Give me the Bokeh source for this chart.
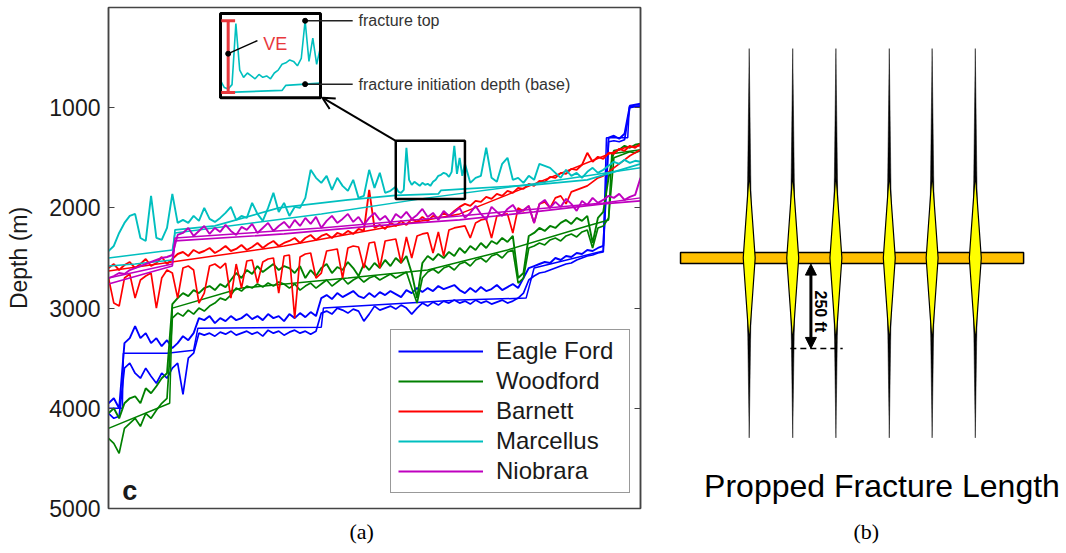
import numpy as np
from bokeh.embed import file_html
from bokeh.layouts import row
from bokeh.models import (Arrow, FixedTicker, Label, Legend, LegendItem, LinearAxis,
                          NormalHead, OpenHead, Range1d, Title)
from bokeh.plotting import figure
from bokeh.resources import INLINE

SANS = "Liberation Sans"
SERIF = "Liberation Serif"
INK = "#1a1a1a"

# ---------------------------------------------------------------------------
# Panel (a): fracture top / initiation depth for wells ranked by depth (m)
# ---------------------------------------------------------------------------
well_rank = list(range(101))

eagle_ford_top = [
    3950, 3900, 4000, 3350, 3300, 3180, 3300, 3250, 3350, 3300,
    3380, 3320, 3400, 3350, 3280, 3320, 3250, 3100, 3120, 3080,
    3150, 3100, 3130, 3080, 3120, 3100, 3060, 3110, 3080, 3120,
    3060, 3100, 3080, 3130, 3060, 3100, 3050, 3090, 3040, 3080,
    2900, 2870, 2910, 2850, 2890, 2860, 2830, 2880, 2900, 2850,
    2890, 2840, 2870, 2830, 2860, 2890, 2820, 2850, 2800, 2840,
    2800, 2830, 2780, 2810, 2790, 2770, 2820, 2850, 2800, 2840,
    2790, 2830, 2810, 2770, 2820, 2790, 2760, 2800, 2700, 2600,
    2580, 2560, 2540, 2550, 2500, 2520, 2480, 2490, 2450, 2460,
    2420, 2430, 2400, 2380, 1300, 1280, 1310, 1260, 980, 970,
    960,
]
eagle_ford_base = [
    4050, 4100, 4080, 3600, 3550, 3650, 3700, 3600, 3680, 3750,
    3650, 3700, 3600, 3550, 3860, 3500, 3450, 3250, 3270, 3250,
    3280, 3240, 3260, 3230, 3270, 3250, 3230, 3260, 3240, 3280,
    3220, 3250, 3230, 3270, 3240, 3220, 3250, 3230, 3260, 3230,
    3050, 3030, 3060, 3000, 3020, 3050, 3010, 3030, 3130, 3060,
    2980, 3020, 3000, 2980, 3010, 2970, 3000, 3060, 3000, 2950,
    2980, 2940, 2970, 2930, 2950, 2920, 2950, 2930, 2960, 2920,
    2950, 2930, 2960, 2940, 2920, 2950, 2930, 2900, 2850, 2720,
    2680, 2650, 2640, 2620, 2600, 2580, 2560, 2550, 2520, 2500,
    2480, 2470, 2450, 2440, 1340, 1330, 1340, 1320, 1000, 990,
    990,
]
eagle_ford_trend_x = [0, 2.6, 2.8, 11, 16, 16.8, 40, 40.4, 66, 78.5, 80, 93, 93.6, 97.6, 97.9, 100]
eagle_ford_trend = [4000, 4000, 3450, 3450, 3420, 3200, 3190, 3000, 2920, 2900, 2600, 2430, 1300, 1300, 990, 980]

woodford_top = [
    4050, 4000, 4100, 3950, 3900, 3880, 3950, 3800, 3850, 3780,
    3700, 3650, 2960, 2900, 2850, 2880, 2820, 2850, 2800, 2780,
    2820, 2760, 2790, 2720, 2650, 2700, 2620, 2660, 2580, 2640,
    2600, 2560, 2620, 2580, 2600, 2650, 2580, 2700, 2620, 2680,
    2600, 2560, 2650, 2590, 2620, 2540, 2600, 2680, 2560, 2620,
    2550, 2600, 2520, 2580, 2500, 2550, 2480, 2650, 2900, 2550,
    2480, 2520, 2460, 2500, 2440, 2480, 2400, 2450, 2380, 2420,
    2350, 2400, 2330, 2360, 2300, 2340, 2280, 2700, 2650, 2280,
    2250, 2200, 2230, 2180, 2200, 2150, 2120, 2160, 2100, 2130,
    2080, 2350, 2100, 2040, 1700, 1430, 1420, 1380, 1400, 1370,
    1360,
]
woodford_base = [
    4300, 4350, 4450, 4200, 4150, 4100, 4180, 4050, 4100, 4020,
    3950, 3900, 3100, 3050, 3080, 3020, 3060, 3000, 3030, 2980,
    2950, 2900, 2920, 2870, 2800, 2830, 2780, 2800, 2760, 2790,
    2750, 2780, 2740, 2760, 2800, 2760, 2820, 2780, 2750, 2800,
    2760, 2720, 2780, 2740, 2700, 2760, 2720, 2690, 2740, 2700,
    2680, 2720, 2690, 2660, 2700, 2670, 2640, 2800, 2950, 2700,
    2640, 2610, 2650, 2600, 2580, 2620, 2560, 2540, 2580, 2520,
    2500, 2540, 2480, 2460, 2500, 2440, 2420, 2750, 2700, 2400,
    2380, 2350, 2370, 2320, 2300, 2330, 2280, 2260, 2290, 2240,
    2220, 2400, 2200, 2180, 2100, 1500, 1480, 1460, 1440, 1450,
    1430,
]
woodford_trend_x = [0, 11.5, 12, 25, 45, 60, 75, 90, 94, 94.6, 100]
woodford_trend = [4200, 3950, 3000, 2800, 2700, 2620, 2420, 2180, 2120, 1460, 1420]

barnett_top = [
    2600, 2560, 2620, 2570, 2540, 2600, 2560, 2510, 2580, 2550,
    2490, 2560, 2510, 2460, 2440, 2480, 2420, 2450, 2430, 2400,
    2450, 2420, 2380, 2430, 2410, 2370, 2420, 2390, 2350, 2400,
    2360, 2330, 2380, 2350, 2330, 2300, 2350, 2300, 2270, 2320,
    2280, 2260, 2300, 2250, 2270, 2230, 2260, 2210, 2230, 1820,
    2200, 2170, 2210, 2150, 2180, 2130, 2170, 2110, 2140, 2090,
    2130, 2080, 2100, 2050, 2080, 2030, 1990, 1960, 1980, 1930,
    1940, 1890, 1910, 1860, 1880, 1830, 1850, 1800, 1810, 1760,
    1780, 1730, 1740, 1690, 1700, 1650, 1660, 1610, 1620, 1570,
    1450, 1540, 1490, 1510, 1450, 1460, 1410, 1430, 1380, 1400,
    1360,
]
barnett_base = [
    2700, 2950, 2980, 2700, 2660, 2900, 2720, 2680, 2650, 3000,
    2700, 2620, 2650, 2900, 2600, 2580, 2620, 2950, 2850, 2580,
    2560, 2600, 2550, 2900, 2560, 2800, 2530, 2520, 2750, 2540,
    2510, 2500, 2850, 2480, 2470, 3100, 2490, 2460, 2450, 2700,
    2650, 2430, 2420, 2410, 2700, 2400, 2380, 2390, 2600, 2350,
    2340, 2600, 2330, 2320, 2310, 2550, 2290, 2500, 2280, 2260,
    2250, 2450, 2240, 2480, 2220, 2200, 2190, 2180, 2300, 2150,
    2120, 2110, 2300, 2080, 2070, 2060, 2250, 2000, 2030, 1980,
    2150, 1960, 1940, 2000, 1900, 1880, 1960, 1840, 1820, 1800,
    1780, 1740, 1700, 1680, 1640, 1600, 1560, 1520, 1480, 1450,
    1420,
]
barnett_trend_x = [0, 33, 66, 97, 100]
barnett_trend = [2630, 2380, 2060, 1400, 1380]

# Marcellus is sampled twice as densely across the stretch shown in the inset
marcellus_x = list(range(0, 54)) + [54 + 0.5 * i for i in range(27)] + list(range(68, 101))
marcellus_top = [
    2430, 2380, 2250, 2150, 2080, 2060, 2300, 2330, 1880, 2300,
    2320, 2200, 1860, 2150, 2120, 2150, 2080, 2130, 2000, 2110,
    2140, 2100, 2050, 1990, 2120, 2080, 2100, 1950, 2060, 2130,
    2000, 1850, 2040, 1950, 2080, 1990, 2000, 1900, 1620, 1700,
    1750, 1680, 1820, 1700, 1780, 1830, 1720, 1900, 1880, 1620,
    1800, 1650, 1850, 1830,
    # 54 .. 67 in half steps
    1790, 1840, 1850, 1820, 1400, 1720, 1770, 1740, 1760, 1780,
    1750, 1770, 1760, 1780, 1740, 1720, 1680, 1670, 1650, 1660,
    1690, 1640, 1380, 1660, 1500, 1680, 1560,
    # 68 .. 100
    1750, 1700, 1680, 1400, 1700, 1740, 1560, 1500, 1720, 1700, 1750, 1680,
    1720, 1560, 1580, 1600, 1650, 1700, 1620, 1680, 1650, 1700,
    1640, 1600, 1650, 1620, 1580, 1540, 1560, 1520, 1550, 1530, 1540,
]
marcellus_base_x = [0, 5, 12, 12.5, 20, 32, 45, 54, 62, 62.5, 67, 80, 90, 95, 100]
marcellus_base = [2580, 2560, 2520, 2220, 2180, 2000, 1920, 1875, 1860, 1825, 1810, 1770, 1720, 1640, 1560]
marcellus_trend_x = [0, 12, 12.5, 40, 60, 80, 100]
marcellus_trend = [2500, 2420, 2250, 2060, 1900, 1760, 1600]

niobrara_top = [
    2700, 2680, 2650, 2660, 2620, 2600, 2580, 2560, 2540, 2520,
    2500, 2490, 2470, 2270, 2250, 2200, 2280, 2230, 2180, 2260,
    2200, 2240, 2170, 2230, 2270, 2190, 2220, 2160, 2250, 2200,
    2150, 2230, 2180, 2140, 2200, 2120, 2180, 2100, 2160, 2090,
    2200, 2130, 2080, 2150, 2110, 2060, 2140, 2090, 2170, 2100,
    2050, 2120, 2080, 2150, 2060, 2100, 2040, 2110, 2070, 2010,
    2090, 2050, 2120, 2030, 2080, 2040, 2000, 2100, 2050, 1980,
    2060, 2120, 1990, 2040, 2080, 2010, 1970, 2050, 2020, 1980,
    2150, 1960, 1920, 2000, 1940, 1990, 1910, 1960, 2030, 1930,
    1970, 1900, 1950, 1920, 1880, 1900, 1860, 1920, 1890, 1870,
    1700,
]
niobrara_base_x = [0, 12, 12.5, 33, 50, 66, 80, 93, 100]
niobrara_base = [2760, 2580, 2330, 2260, 2180, 2120, 2040, 1960, 1930]
niobrara_trend_x = [0, 12, 12.5, 40, 66, 93, 100]
niobrara_trend = [2700, 2560, 2300, 2200, 2080, 1950, 1900]

depth_ticks = [1000, 2000, 3000, 4000, 5000]

formations = [
    ("Eagle Ford", "#0000ff", well_rank, eagle_ford_top, well_rank, eagle_ford_base,
     eagle_ford_trend_x, eagle_ford_trend),
    ("Woodford", "#008000", well_rank, woodford_top, well_rank, woodford_base,
     woodford_trend_x, woodford_trend),
    ("Barnett", "#ff0000", well_rank, barnett_top, well_rank, barnett_base,
     barnett_trend_x, barnett_trend),
    ("Marcellus", "#00bfbf", marcellus_x, marcellus_top, marcellus_base_x, marcellus_base,
     marcellus_trend_x, marcellus_trend),
    ("Niobrara", "#bf00bf", well_rank, niobrara_top, niobrara_base_x, niobrara_base,
     niobrara_trend_x, niobrara_trend),
]

p = figure(width=655, height=553, x_range=Range1d(0, 100), y_range=Range1d(5000, 0),
           x_axis_type=None, y_axis_type=None, title=None,
           toolbar_location=None, output_backend="svg",
           min_border_left=108, min_border_right=15, min_border_top=7, min_border_bottom=45)
p.outline_line_color = "#444444"
p.outline_line_width = 1.5
p.background_fill_color = "white"
p.border_fill_color = "white"

left_axis = LinearAxis(ticker=FixedTicker(ticks=depth_ticks), axis_label="Depth (m)")
left_axis.major_tick_in = 6
left_axis.major_tick_out = 0
left_axis.minor_tick_line_color = None
left_axis.major_tick_line_color = "#444444"
left_axis.axis_line_color = "#444444"
left_axis.axis_line_width = 1.5
left_axis.major_label_standoff = 8
left_axis.major_label_text_font = SANS
left_axis.major_label_text_font_size = "23px"
left_axis.major_label_text_color = INK
left_axis.axis_label_text_font = SANS
left_axis.axis_label_text_font_size = "23px"
left_axis.axis_label_text_font_style = "normal"
left_axis.axis_label_text_color = INK
left_axis.axis_label_standoff = 14
p.add_layout(left_axis, "left")

right_axis = LinearAxis(ticker=FixedTicker(ticks=depth_ticks))
right_axis.major_tick_in = 6
right_axis.major_tick_out = 0
right_axis.minor_tick_line_color = None
right_axis.major_tick_line_color = "#444444"
right_axis.axis_line_color = "#444444"
right_axis.axis_line_width = 1.5
right_axis.major_label_standoff = 0
right_axis.major_label_text_font_size = "0px"
right_axis.major_label_overrides = {t: "" for t in depth_ticks}
p.add_layout(right_axis, "right")

legend_items = []
for name, color, tx, top, bx, base, trx, trend in formations:
    p.line(trx, trend, line_color=color, line_width=1.5)
    p.line(bx, base, line_color=color, line_width=1.7)
    r = p.line(tx, top, line_color=color, line_width=1.9)
    legend_items.append(LegendItem(label=name, renderers=[r]))

legend = Legend(items=legend_items, location=(282, 15))
legend.label_text_font = SANS
legend.label_text_font_size = "24px"
legend.label_text_color = INK
legend.glyph_width = 85
legend.glyph_height = 24
legend.label_height = 24
legend.label_width = 126
legend.label_standoff = 13
legend.spacing = 2
legend.padding = 7
legend.margin = 0
legend.border_line_color = "#333333"
legend.border_line_width = 1
legend.background_fill_alpha = 1.0
p.add_layout(legend)

# --- zoomed view of a Marcellus stretch, drawn in the empty upper part ---
WIN_X = (54.0, 67.0)
WIN_D = (1330.0, 1910.0)
INSET_X = (21.05, 39.85)
INSET_D = (60.0, 900.0)


def inset_x(x):
    return INSET_X[0] + (np.asarray(x, float) - WIN_X[0]) * (INSET_X[1] - INSET_X[0]) / (WIN_X[1] - WIN_X[0])


def inset_d(d):
    return INSET_D[0] + (np.asarray(d, float) - WIN_D[0]) * (INSET_D[1] - INSET_D[0]) / (WIN_D[1] - WIN_D[0])


mx = np.asarray(marcellus_x, float)
mt = np.asarray(marcellus_top, float)
bx = np.asarray(marcellus_base_x, float)
bd = np.asarray(marcellus_base, float)
sel_t = (mx >= WIN_X[0]) & (mx <= WIN_X[1])
sel_b = (bx >= WIN_X[0]) & (bx <= WIN_X[1])

p.line(inset_x(mx[sel_t]), inset_d(mt[sel_t]), line_color="#00bfbf", line_width=1.6)
p.line(inset_x(bx[sel_b]), inset_d(bd[sel_b]), line_color="#00bfbf", line_width=1.6)

# window in the main plot and its enlarged box
p.quad(left=[WIN_X[0]], right=[WIN_X[1]], top=[WIN_D[0]], bottom=[WIN_D[1]],
       fill_color=None, line_color="black", line_width=2.5)
p.quad(left=[INSET_X[0]], right=[INSET_X[1]], top=[INSET_D[0]], bottom=[INSET_D[1]],
       fill_color=None, line_color="black", line_width=3)
p.add_layout(Arrow(x_start=WIN_X[0], y_start=WIN_D[0], x_end=INSET_X[1] + 0.35, y_end=INSET_D[1],
                   line_width=2, line_color="black",
                   end=OpenHead(size=12, line_width=2, line_color="black")))

# vertical extent (VE) bar between base and highest fracture top
ve_well = 55.0
ve_top = inset_d(mt[sel_t].min())
ve_bot = inset_d(np.interp(WIN_X[0], bx, bd))
ve_x = float(inset_x(ve_well))
VE_RED = "#e8383d"
p.segment(x0=[ve_x, ve_x - 1.3, ve_x - 1.3], y0=[ve_top, ve_top, ve_bot],
          x1=[ve_x, ve_x + 1.3, ve_x + 1.3], y1=[ve_bot, ve_top, ve_bot],
          line_color=VE_RED, line_width=3)
ve_mid = (ve_top + ve_bot) / 2 - 30
p.line([ve_x, ve_x + 5.5], [ve_mid, ve_mid - 130], line_color="black", line_width=1.5)
p.scatter([ve_x], [ve_mid], size=5, color="black")
p.add_layout(Label(x=ve_x + 6.6, y=ve_mid - 100, text="VE", text_color=VE_RED,
                   text_font=SANS, text_font_size="18px", text_baseline="middle"))

# leaders to the highest fracture top and to the base beneath it
k = int(np.argmin(np.where(sel_t, mt, np.inf)))
top_x = float(inset_x(mx[k]))
top_d = float(inset_d(mt[k]))
base_d = float(inset_d(np.interp(mx[k], bx, bd)))
p.segment(x0=[top_x, top_x], y0=[top_d, base_d], x1=[45.9, 45.9], y1=[top_d, base_d],
          line_color="#222222", line_width=1.5)
p.scatter([top_x, top_x], [top_d, base_d], size=5, color="black")
p.add_layout(Label(x=47.0, y=top_d, text="fracture top", text_color="#333333",
                   text_font=SANS, text_font_size="16px", text_baseline="middle"))
p.add_layout(Label(x=47.0, y=base_d, text="fracture initiation depth (base)", text_color="#333333",
                   text_font=SANS, text_font_size="16px", text_baseline="middle"))

p.add_layout(Label(x=2.6, y=4830, text="c", text_color=INK, text_font=SANS,
                   text_font_size="27px", text_font_style="bold", text_baseline="middle"))
p.add_layout(Title(text="(a)", align="left", offset=241, standoff=16, text_font=SERIF,
                   text_font_size="22px", text_font_style="normal", text_color="black"), "below")

# ---------------------------------------------------------------------------
# Panel (b): plan view of the lateral with propped vs. hydraulic fracture length
# ---------------------------------------------------------------------------
stage_x_ft = [0, 128, 255, 412, 538, 665]
hydraulic_up_ft = 616
hydraulic_down_ft = 529
propped_half_length_ft = 250
lateral_extent_ft = [-202, 807]

crack_half_width = 7.4
prop_half_width = 17.6
well_half_thickness = 16

# frame spans the same 501 px band as panel (a), at 0.34 px per ft
q = figure(width=411, height=553, x_range=Range1d(-275.6, 933.2), y_range=Range1d(-736.8, 736.8),
           x_axis_type=None, y_axis_type=None, title=None,
           toolbar_location=None, output_backend="svg",
           min_border_left=0, min_border_right=0, min_border_top=7, min_border_bottom=45)
q.outline_line_color = None
q.background_fill_color = "white"
q.border_fill_color = "white"

q.patches([[x, x + crack_half_width, x, x - crack_half_width] for x in stage_x_ft],
          [[hydraulic_up_ft, 0, -hydraulic_down_ft, 0] for _ in stage_x_ft],
          fill_color="black", line_color="black", line_width=0.5)
q.quad(left=[lateral_extent_ft[0]], right=[lateral_extent_ft[1]],
       bottom=[-well_half_thickness], top=[well_half_thickness],
       fill_color="#ffc000", line_color="black", line_width=1.5)
q.patches([[x, x + prop_half_width, x, x - prop_half_width] for x in stage_x_ft],
          [[propped_half_length_ft, 0, -propped_half_length_ft, 0] for _ in stage_x_ft],
          fill_color="#ffff00", line_color="black", line_width=1.2)

arrow_x = (stage_x_ft[1] + stage_x_ft[2]) / 2 - 10
tip_y = -(well_half_thickness + propped_half_length_ft)
q.add_layout(Arrow(x_start=arrow_x, y_start=-well_half_thickness - 2, x_end=arrow_x, y_end=tip_y,
                   line_width=3, line_color="black",
                   start=NormalHead(size=11, fill_color="black", line_color="black"),
                   end=NormalHead(size=11, fill_color="black", line_color="black")))
q.line([stage_x_ft[1] - 7, stage_x_ft[2] + 20], [tip_y, tip_y], line_color="black",
       line_width=1.5, line_dash="6 4")
q.add_layout(Label(x=arrow_x + 29, y=-157, text=f"{propped_half_length_ft} ft", angle=-np.pi / 2,
                   text_font=SANS, text_font_size="16px", text_font_style="bold",
                   text_align="center", text_baseline="middle", text_color="black"))
q.add_layout(Label(x=390.6, y=-672, text="Propped Fracture Length", text_font=SANS,
                   text_font_size="32px", text_align="center", text_baseline="middle",
                   text_color="black"))
q.add_layout(Title(text="(b)", align="left", offset=198, standoff=16, text_font=SERIF,
                   text_font_size="22px", text_font_style="normal", text_color="black"), "below")

layout = row(p, q)
open("out.html", "w").write(file_html(layout, INLINE))
